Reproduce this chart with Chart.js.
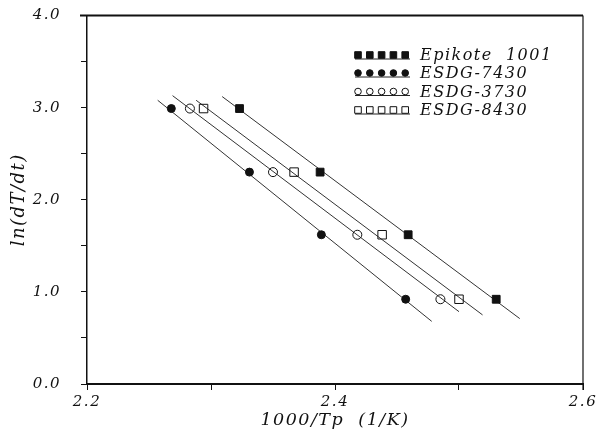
<!DOCTYPE html>
<html>
<head>
<meta charset="utf-8">
<script src="https://cdn.jsdelivr.net/npm/chart.js@4"></script>
<style>
  html, body { margin: 0; padding: 0; background: #fff; }
  #box { width: 597px; height: 436px; }
</style>
</head>
<body>
<div id="box"><canvas id="myChart"></canvas></div>
<script>
// ln(heating rate) - same 4 rates for every resin
const lnRate = [2.99, 2.30, 1.62, 0.92];

// 1000/Tp
const epikoteX = [2.323, 2.388, 2.459, 2.530];
const esdg7430X = [2.268, 2.331, 2.389, 2.457];
const esdg3730X = [2.283, 2.350, 2.418, 2.485];
const esdg8430X = [2.294, 2.367, 2.438, 2.500];

// fitted lines, end points
const epikoteFitX = [2.309, 2.549];
const epikoteFitY = [3.12, 0.71];
const esdg7430FitX = [2.257, 2.478];
const esdg7430FitY = [3.08, 0.68];
const esdg3730FitX = [2.269, 2.500];
const esdg3730FitY = [3.13, 0.785];
const esdg8430FitX = [2.288, 2.519];
const esdg8430FitY = [3.08, 0.75];

const seriesNames = ['Epikote  1001', 'ESDG-7430', 'ESDG-3730', 'ESDG-8430'];
const xTicks = [2.2, 2.4, 2.6];
const yTicks = [0, 1, 2, 3, 4];

const serif = '"DejaVu Serif", "Liberation Serif", serif';

function pts(xs, ys) {
	return xs.map((x, i) => ({ x: x, y: ys[i] }));
}

// marker looks, also used by the legend
const looks = [
	{ style: 'rect', fill: '#111', r: 5.5 },
	{ style: 'circle', fill: '#111', r: 4 },
	{ style: 'circle', fill: 'rgba(0,0,0,0)', r: 4.5 },
	{ style: 'rect', fill: 'rgba(0,0,0,0)', r: 6 }
];

function markerSet(label, xs, look) {
	return {
		label: label,
		data: pts(xs, lnRate),
		pointStyle: look.style,
		pointRadius: look.r,
		pointBackgroundColor: look.fill,
		pointBorderColor: '#111',
		pointBorderWidth: 1,
		showLine: false
	};
}

function fitSet(xs, ys) {
	return {
		label: '',
		data: pts(xs, ys),
		showLine: true,
		pointRadius: 0,
		borderColor: '#333',
		borderWidth: 1,
		fill: false
	};
}

// letter spacing for the wide old typewriter-ish serif
const spacing = {
	id: 'spacing',
	beforeDraw(chart) {
		chart.ctx.letterSpacing = '1.5px';
	}
};

// top and right edges of the box
const frame = {
	id: 'frame',
	afterDraw(chart) {
		const c = chart.ctx;
		const a = chart.chartArea;
		c.save();
		c.strokeStyle = '#111';
		c.lineWidth = 2;
		c.beginPath();
		c.moveTo(a.left - 7, a.top);
		c.lineTo(a.right, a.top);
		c.stroke();
		c.lineWidth = 1.2;
		c.beginPath();
		c.moveTo(a.right, a.top);
		c.lineTo(a.right, a.bottom + 6);
		c.stroke();
		c.restore();
	}
};

// legend: 5 markers on a line, then the name
const oldLegend = {
	id: 'oldLegend',
	afterDraw(chart) {
		const c = chart.ctx;
		c.save();
		c.letterSpacing = '1.5px';
		const rows = [55, 73, 91.5, 110];
		looks.forEach((look, i) => {
			const y = rows[i];
			c.strokeStyle = '#222';
			c.lineWidth = 1;
			c.beginPath();
			c.moveTo(355, y + 4);
			c.lineTo(410, y + 4);
			c.stroke();
			for (let k = 0; k < 5; k++) {
				const x = 358 + k * 11.8;
				c.fillStyle = look.fill === '#111' ? '#111' : '#fff';
				c.strokeStyle = '#111';
				c.beginPath();
				if (look.style === 'rect') {
					c.rect(x - 3.3, y - 3.3, 6.6, 6.6);
				} else {
					c.arc(x, y, 3.3, 0, Math.PI * 2);
				}
				c.fill();
				c.stroke();
			}
			c.fillStyle = '#111';
			c.font = 'italic 16px ' + serif;
			c.textAlign = 'left';
			c.textBaseline = 'middle';
			c.fillText(seriesNames[i], 420, y + 1);
		});
		c.restore();
	}
};

const ctx = document.querySelector('#myChart');

const myChart = new Chart(ctx, {
	type: 'scatter',
	data: {
		datasets: [
			markerSet(seriesNames[0], epikoteX, looks[0]),
			markerSet(seriesNames[1], esdg7430X, looks[1]),
			markerSet(seriesNames[2], esdg3730X, looks[2]),
			markerSet(seriesNames[3], esdg8430X, looks[3]),
			fitSet(epikoteFitX, epikoteFitY),
			fitSet(esdg7430FitX, esdg7430FitY),
			fitSet(esdg3730FitX, esdg3730FitY),
			fitSet(esdg8430FitX, esdg8430FitY)
		]
	},
	options: {
		responsive: true,
		maintainAspectRatio: false,
		animation: false,
		layout: { autoPadding: false, padding: { top: 15.5, right: 14, left: 0, bottom: 0 } },
		plugins: {
			legend: { display: false },
			tooltip: { enabled: false }
		},
		scales: {
			x: {
				type: 'linear',
				min: 2.2,
				max: 2.6,
				afterFit: s => { s.height = 52; s.paddingRight = 0; s.paddingLeft = 0; },
				border: { display: true, color: '#111', width: 2 },
				grid: { drawOnChartArea: false, drawTicks: true, tickLength: 6, color: '#111' },
				ticks: {
					stepSize: 0.1,
					autoSkip: false,
					maxRotation: 0,
					padding: 3,
					color: '#111',
					font: { family: serif, size: 15, style: 'italic' },
					callback: v => xTicks.some(t => Math.abs(t - v) < 1e-6) ? v.toFixed(1) : ''
				},
				title: {
					display: true,
					text: '1000/Tp  (1/K)',
					color: '#111',
					font: { family: serif, size: 17.5, style: 'italic' },
					padding: { top: 5, bottom: 5 }
				}
			},
			y: {
				min: 0,
				max: 4,
				afterFit: s => { s.width = 87; s.paddingTop = 0; s.paddingBottom = 0; },
				border: { display: true, color: '#111', width: 1.5 },
				grid: { drawOnChartArea: false, drawTicks: true, tickLength: 6, color: '#111' },
				ticks: {
					stepSize: 0.5,
					padding: 20,
					color: '#111',
					font: { family: serif, size: 15, style: 'italic' },
					callback: v => yTicks.some(t => Math.abs(t - v) < 1e-6) ? v.toFixed(1) : ''
				},
				title: {
					display: true,
					text: 'ln(dT/dt)',
					color: '#111',
					font: { family: serif, size: 18, style: 'italic' },
					padding: { top: 9, bottom: 9 }
				}
			}
		}
	},
	plugins: [spacing, frame, oldLegend]
});
</script>
</body>
</html>
